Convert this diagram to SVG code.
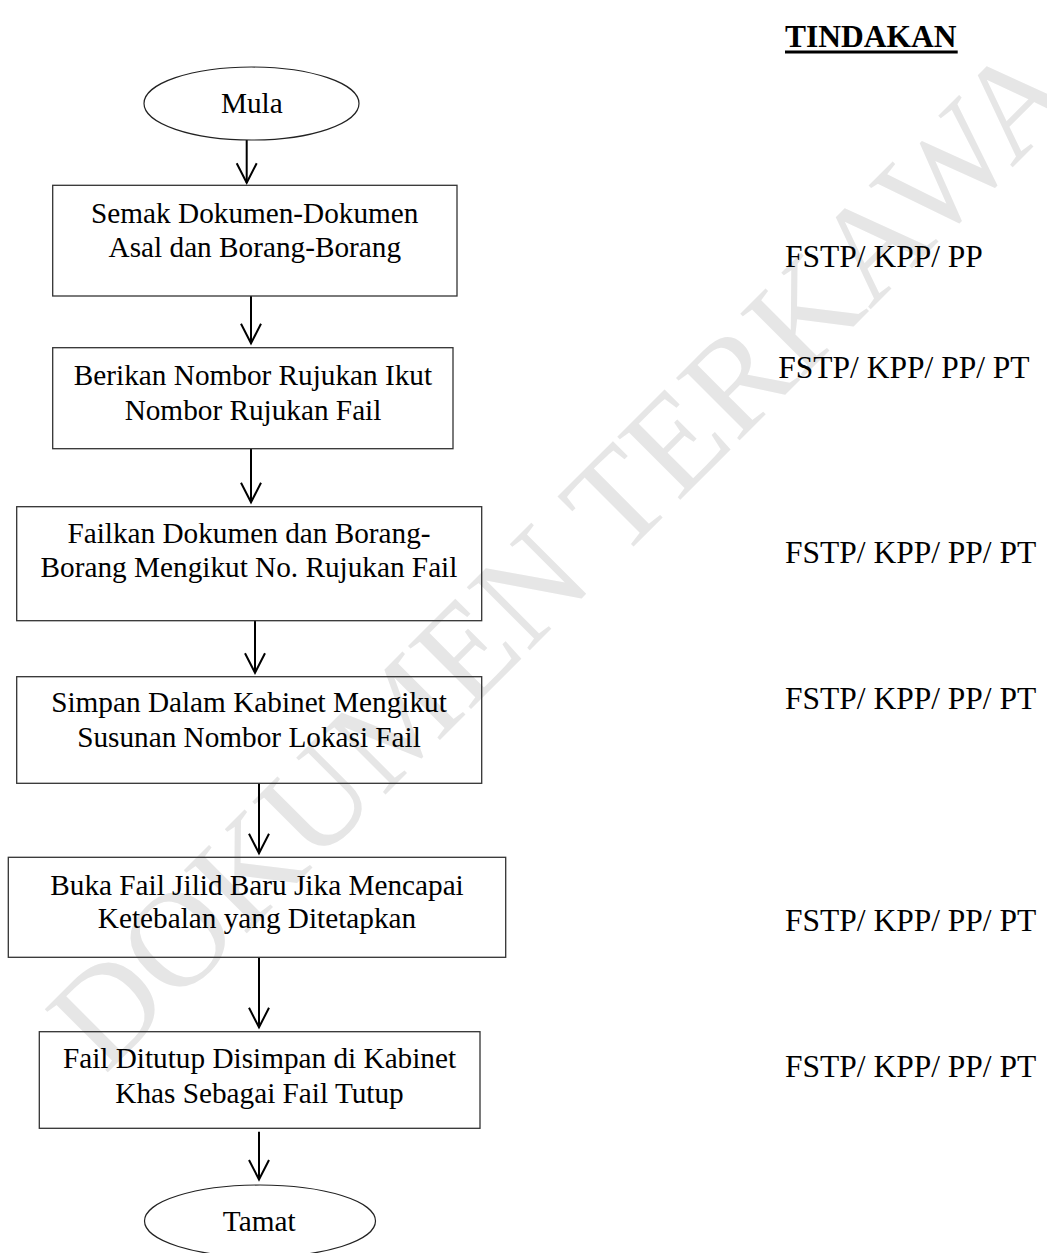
<svg xmlns="http://www.w3.org/2000/svg" width="1047" height="1253" viewBox="0 0 1047 1253">
  <defs>
    <style>
      .wm { font-family: "Liberation Serif", "Times New Roman", serif; font-size: 136px; fill: #e6e6e6; }
      .box { fill: none; stroke: #333; stroke-width: 1.3; }
      .term { fill: none; stroke: #222; stroke-width: 1.2; }
      .t { font-family: "Liberation Serif", "Times New Roman", serif; font-size: 29.25px; fill: #000; text-anchor: middle; }
      .r { font-family: "Liberation Serif", "Times New Roman", serif; font-size: 31.5px; fill: #000; }
      .h { font-family: "Liberation Serif", "Times New Roman", serif; font-size: 31.5px; font-weight: bold; fill: #000; }
      .conn { stroke: #000; stroke-width: 2; fill: none; marker-end: url(#arrow); }
    </style>
    <marker id="arrow" markerUnits="userSpaceOnUse" markerWidth="40" markerHeight="40" refX="0" refY="0" orient="auto" overflow="visible">
      <path d="M -19.5,-10 L 0,0 L -19.5,10" fill="none" stroke="#000" stroke-width="2"/>
    </marker>
  </defs>
  <rect width="1047" height="1253" fill="#fff"/>

  <text class="wm" x="105" y="1075" transform="rotate(-45 105 1075)">DOKUMEN TERKAWA</text>

  <g id="header">
    <text class="h" x="785" y="46.7">TINDAKAN</text>
    <rect x="785" y="50.5" width="172.7" height="3" fill="#000"/>
  </g>

  <g id="connectors">
    <line class="conn" x1="246.7" y1="140" x2="246.7" y2="182.7"/>
    <line class="conn" x1="251" y1="296" x2="251" y2="343.3"/>
    <line class="conn" x1="251" y1="448.7" x2="251" y2="502.3"/>
    <line class="conn" x1="255" y1="620.7" x2="255" y2="672.7"/>
    <line class="conn" x1="259" y1="783.3" x2="259" y2="853.3"/>
    <line class="conn" x1="259" y1="957.3" x2="259" y2="1027.3"/>
    <line class="conn" x1="259" y1="1131.7" x2="259" y2="1179.5"/>
  </g>

  <g id="mula">
    <ellipse class="term" cx="251.5" cy="103.5" rx="107.5" ry="36.5"/>
    <text class="t" x="251.8" y="113">Mula</text>
  </g>

  <g id="semak">
    <rect class="box" x="52.7" y="185.3" width="404.3" height="110.7"/>
    <text class="t" x="254.8" y="222.7">Semak Dokumen-Dokumen</text>
    <text class="t" x="254.8" y="257">Asal dan Borang-Borang</text>
  </g>

  <g id="berikan">
    <rect class="box" x="52.7" y="347.7" width="400.3" height="101"/>
    <text class="t" x="253" y="385">Berikan Nombor Rujukan Ikut</text>
    <text class="t" x="253" y="420">Nombor Rujukan Fail</text>
  </g>

  <g id="failkan">
    <rect class="box" x="16.7" y="506.7" width="465" height="114"/>
    <text class="t" x="249" y="543.3">Failkan Dokumen dan Borang-</text>
    <text class="t" x="249" y="577.3">Borang Mengikut No. Rujukan Fail</text>
  </g>

  <g id="simpan">
    <rect class="box" x="16.7" y="676.7" width="465" height="106.6"/>
    <text class="t" x="249" y="711.7">Simpan Dalam Kabinet Mengikut</text>
    <text class="t" x="249" y="747.3">Susunan Nombor Lokasi Fail</text>
  </g>

  <g id="buka">
    <rect class="box" x="8.3" y="857.3" width="497.4" height="100"/>
    <text class="t" x="257" y="895">Buka Fail Jilid Baru Jika Mencapai</text>
    <text class="t" x="257" y="928.3">Ketebalan yang Ditetapkan</text>
  </g>

  <g id="ditutup">
    <rect class="box" x="39.3" y="1031.7" width="440.7" height="96.6"/>
    <text class="t" x="259.5" y="1068.3">Fail Ditutup Disimpan di Kabinet</text>
    <text class="t" x="259.5" y="1102.7">Khas Sebagai Fail Tutup</text>
  </g>

  <g id="tamat">
    <ellipse class="term" cx="260" cy="1221" rx="115.5" ry="36"/>
    <text class="t" x="259.2" y="1231">Tamat</text>
  </g>

  <g id="tindakan">
    <text class="r" x="785" y="266.7">FSTP/ KPP/ PP</text>
    <text class="r" x="778.3" y="378.3">FSTP/ KPP/ PP/ PT</text>
    <text class="r" x="785" y="562.7">FSTP/ KPP/ PP/ PT</text>
    <text class="r" x="785" y="709.3">FSTP/ KPP/ PP/ PT</text>
    <text class="r" x="785" y="930.7">FSTP/ KPP/ PP/ PT</text>
    <text class="r" x="785" y="1077.3">FSTP/ KPP/ PP/ PT</text>
  </g>
</svg>
